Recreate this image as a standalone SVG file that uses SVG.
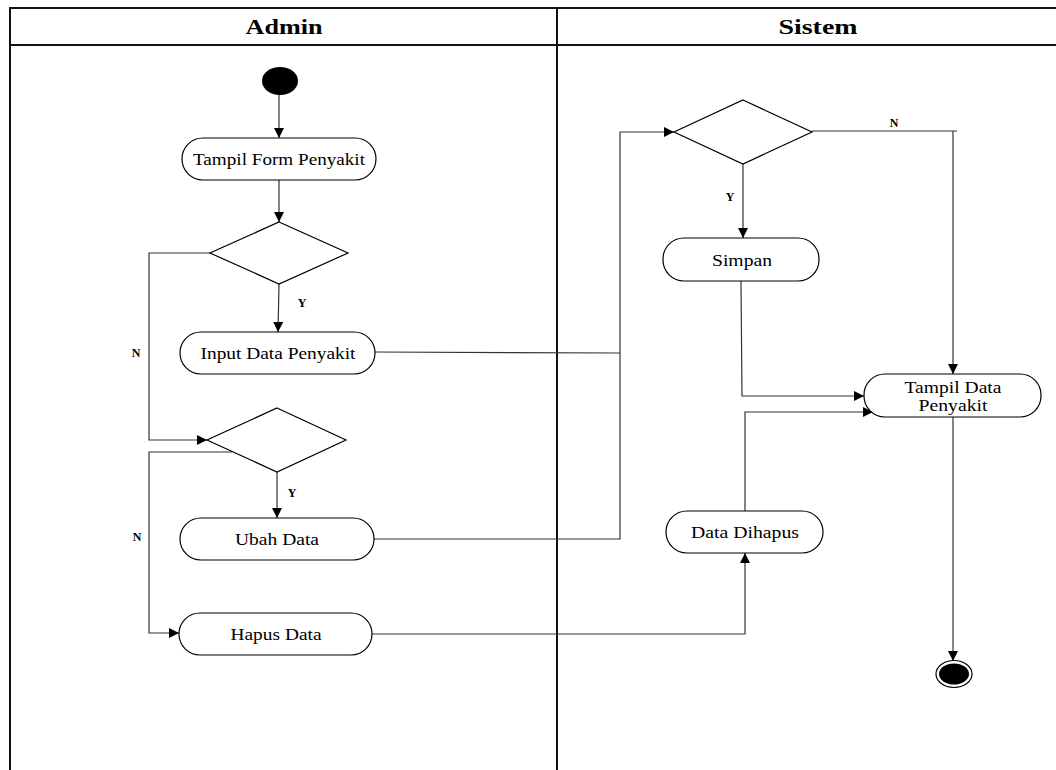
<svg xmlns="http://www.w3.org/2000/svg" width="1056" height="770" viewBox="0 0 1056 770">
<style>
.lane{stroke:#111;stroke-width:2;fill:none}
.hdr{font-family:"Liberation Serif",serif;font-weight:bold;font-size:22px;text-anchor:middle;fill:#000}
.node{fill:#fff;stroke:#000;stroke-width:1.2}
.txt{font-family:"Liberation Serif",serif;font-size:17.5px;text-anchor:middle;fill:#000}
.lbl{font-family:"Liberation Serif",serif;font-weight:bold;font-size:12px;text-anchor:middle;fill:#000}
.edge{fill:none;stroke:#333;stroke-width:1.2}
.arr{marker-end:url(#ah)}
</style>
<defs>
<marker id="ah" markerUnits="userSpaceOnUse" markerWidth="12" markerHeight="12" refX="10" refY="5" orient="auto">
<path d="M0,0 L10,5 L0,10 Z" fill="#000"/>
</marker>
</defs>
<rect width="1056" height="770" fill="#fff"/>
<g id="lanes">
<line class="lane" x1="9" y1="8" x2="1056" y2="8"/>
<line class="lane" x1="9" y1="45" x2="1056" y2="45"/>
<line class="lane" x1="10" y1="8" x2="10" y2="770"/>
<line class="lane" x1="557" y1="8" x2="557" y2="770"/>
<text class="hdr" x="284" y="34" textLength="77" lengthAdjust="spacingAndGlyphs">Admin</text>
<text class="hdr" x="818" y="34" textLength="79" lengthAdjust="spacingAndGlyphs">Sistem</text>
</g>
<g id="connectors">
<path class="edge arr" d="M279,95 L279,138"/>
<path class="edge arr" d="M279,180 L279,222"/>
<path class="edge arr" d="M279,284 L278,332"/>
<path class="edge arr" d="M210,253 L149,253 L149,440 L207,440"/>
<path class="edge arr" d="M375,352 L620,353 L620,132 L674,132"/>
<path class="edge arr" d="M277,472 L277,518"/>
<path class="edge arr" d="M232,452 L149,452 L149,633 L179,633"/>
<path class="edge" d="M374,539 L620,539 L620,353"/>
<path class="edge" d="M812,131 L957,131"/>
<path class="edge arr" d="M953,131 L953,374"/>
<path class="edge arr" d="M743,164 L743,238"/>
<path class="edge arr" d="M741,281 L742,396 L864,396"/>
<path class="edge arr" d="M745,511 L745,412 L873,412"/>
<path class="edge arr" d="M372,634 L745,634 L745,553"/>
<path class="edge arr" d="M953,417 L953,661"/>
<text class="lbl" x="302" y="307">Y</text>
<text class="lbl" x="136" y="357">N</text>
<text class="lbl" x="292" y="497">Y</text>
<text class="lbl" x="137" y="541">N</text>
<text class="lbl" x="894" y="127">N</text>
<text class="lbl" x="730" y="201">Y</text>
</g>
<g id="start"><ellipse cx="280" cy="81" rx="18" ry="14" fill="#000"/></g>
<g id="tampil-form"><rect class="node" x="182" y="138" width="194" height="42" rx="21"/><text class="txt" x="279" y="165" textLength="172" lengthAdjust="spacingAndGlyphs">Tampil Form Penyakit</text></g>
<g id="decision1"><polygon class="node" points="279,222 348,253 279,284 210,253"/></g>
<g id="input-data"><rect class="node" x="180" y="332" width="195" height="42" rx="21"/><text class="txt" x="278" y="359" textLength="155" lengthAdjust="spacingAndGlyphs">Input Data Penyakit</text></g>
<g id="decision2"><polygon class="node" points="277,408 346,440 277,472 207,440"/></g>
<g id="ubah-data"><rect class="node" x="180" y="518" width="194" height="42" rx="21"/><text class="txt" x="277" y="545" textLength="84" lengthAdjust="spacingAndGlyphs">Ubah Data</text></g>
<g id="hapus-data"><rect class="node" x="179" y="613" width="193" height="42" rx="21"/><text class="txt" x="276" y="640" textLength="91" lengthAdjust="spacingAndGlyphs">Hapus Data</text></g>
<g id="decision3"><polygon class="node" points="743,100 812,132 743,164 674,132"/></g>
<g id="simpan"><rect class="node" x="663" y="238" width="156" height="43" rx="21"/><text class="txt" x="742" y="266" textLength="60" lengthAdjust="spacingAndGlyphs">Simpan</text></g>
<g id="tampil-data"><rect class="node" x="864" y="374" width="177" height="43" rx="21"/><text class="txt" x="953" y="393" textLength="97" lengthAdjust="spacingAndGlyphs">Tampil Data</text><text class="txt" x="953" y="411" textLength="69" lengthAdjust="spacingAndGlyphs">Penyakit</text></g>
<g id="data-dihapus"><rect class="node" x="666" y="511" width="157" height="42" rx="21"/><text class="txt" x="745" y="538" textLength="108" lengthAdjust="spacingAndGlyphs">Data Dihapus</text></g>
<g id="end"><ellipse cx="954" cy="674" rx="18" ry="13.5" fill="#fff" stroke="#000" stroke-width="1.2"/><ellipse cx="954" cy="674" rx="15" ry="10.5" fill="#000"/></g>
</svg>
